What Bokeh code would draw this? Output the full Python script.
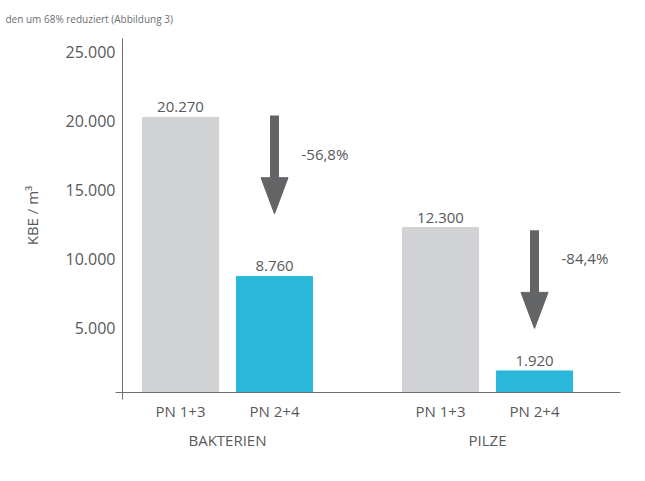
from bokeh.plotting import figure
from bokeh.models import Range1d, FixedTicker, LinearAxis, ColumnDataSource
from bokeh.core.properties import value
from bokeh.embed import file_html
from bokeh.resources import INLINE

# ---- data ----
groups = ["BAKTERIEN", "PILZE"]
members = ["PN 1+3", "PN 2+4"]
values = [20270, 8760, 12300, 1920]
value_labels = ["20.270", "8.760", "12.300", "1.920"]
y_ticks = [5000, 10000, 15000, 20000, 25000]
y_tick_labels = ["5.000", "10.000", "15.000", "20.000", "25.000"]
y_axis_title = "KBE / m³"
arrow_top = [20400, 12100]
arrow_tip = [13300, 5000]
pct_label_y = [17600, 10100]
page_text = "den um 68% reduziert (Abbildung 3)"

# ---- styles ----
FONT = "Open Sans"
TXT = "#58595b"
AXIS = "#6d6e71"
GREY = "#d1d2d4"
CYAN = "#29b8d9"
ARROW = "#636466"

W, H = 629, 465
ML, MR, MT, MB = 122, 9, 38, 73
PX_PER_X = 94.0          # screen pixels per category step
member_step = 1.0
group_step = 2.766
bar_w = 0.81

xs = [gi * group_step + mi * member_step for gi in range(len(groups)) for mi in range(len(members))]
cols = [GREY if mi == 0 else CYAN for gi in range(len(groups)) for mi in range(len(members))]
cat_labels = [m for g in groups for m in members]
group_centers = [(xs[2 * gi] + xs[2 * gi + 1]) / 2 for gi in range(len(groups))]

x0 = -58 / PX_PER_X
x1 = x0 + (W - ML - MR) / PX_PER_X
y0, y1 = 360, 25980

p = figure(width=W, height=H, output_backend="svg", toolbar_location=None,
           x_range=Range1d(x0, x1), y_range=Range1d(y0, y1),
           min_border_left=ML, min_border_right=MR, min_border_top=MT, min_border_bottom=MB)
p.outline_line_color = None
p.grid.grid_line_color = None
p.background_fill_color = "white"
p.border_fill_color = "white"

# text line of the page above the chart
p.title.text = page_text
p.title.text_font = FONT
p.title.text_font_size = "10px"
p.title.text_font_style = "normal"
p.title.text_color = "#6d6e71"
p.title.align = "left"
p.title.offset = -(ML - 5)
p.title.vertical_align = "top"
p.title.standoff = 21

src = ColumnDataSource(dict(x=xs, top=values, color=cols, lab=value_labels))
p.vbar(x="x", top="top", bottom=0, width=bar_w, color="color", source=src)
p.text(x="x", y="top", text="lab", source=src, text_align="center", text_baseline="bottom",
       y_offset=-5, text_font=value(FONT), text_font_size="15px", text_color=TXT)

# y axis
yax = p.yaxis[0]
yax.ticker = FixedTicker(ticks=y_ticks, minor_ticks=[y0])
yax.major_label_overrides = dict(zip(y_ticks, y_tick_labels))
yax.major_tick_line_color = None
yax.minor_tick_line_color = AXIS
yax.minor_tick_in = 0
yax.minor_tick_out = 7
yax.axis_line_color = AXIS
yax.major_label_standoff = 0
yax.major_label_text_font = FONT
yax.major_label_text_font_size = "16px"
yax.major_label_text_color = TXT
yax.axis_label = y_axis_title
yax.axis_label_text_font = FONT
yax.axis_label_text_font_style = "normal"
yax.axis_label_text_font_size = "15px"
yax.axis_label_text_color = TXT
yax.axis_label_standoff = 21

# x axis (categories)
xax = p.xaxis[0]
xax.ticker = FixedTicker(ticks=xs, minor_ticks=[x0])
xax.major_label_overrides = dict(zip(xs, cat_labels))
xax.major_tick_line_color = None
xax.minor_tick_line_color = AXIS
xax.minor_tick_in = 0
xax.minor_tick_out = 7
xax.axis_line_color = AXIS
xax.major_label_standoff = 1
xax.major_label_text_font = FONT
xax.major_label_text_font_size = "15px"
xax.major_label_text_color = TXT

# group axis
gax = LinearAxis(ticker=FixedTicker(ticks=group_centers),
                 major_label_overrides=dict(zip(group_centers, groups)))
gax.axis_line_color = None
gax.major_tick_line_color = None
gax.minor_tick_line_color = None
gax.major_label_standoff = 0
gax.major_label_text_font = FONT
gax.major_label_text_font_size = "15px"
gax.major_label_text_color = TXT
p.add_layout(gax, "below")

# arrows (shaft + head), head size in screen px converted to data units
px_y = (H - MT - MB) / (y1 - y0)
head_w = 13.5 / PX_PER_X
head_l = 36 / px_y
ax_x = [xs[2 * gi + 1] for gi in range(len(groups))]
p.segment(x0=ax_x, y0=arrow_top, x1=ax_x, y1=[t + head_l for t in arrow_tip],
          line_width=9, line_color=ARROW, line_cap="butt")
p.patches(xs=[[x - head_w, x + head_w, x] for x in ax_x],
          ys=[[t + head_l, t + head_l, t] for t in arrow_tip],
          fill_color=ARROW, line_color=ARROW)

pct = ["{:.1f}%".format((values[2 * gi + 1] - values[2 * gi]) / values[2 * gi] * 100).replace(".", ",")
       for gi in range(len(groups))]
p.text(x=ax_x, y=pct_label_y, text=pct, x_offset=27, text_align="left", text_baseline="middle",
       text_font=value(FONT), text_font_size="15px", text_color=TXT)

open("out.html", "w").write(file_html(p, INLINE))
